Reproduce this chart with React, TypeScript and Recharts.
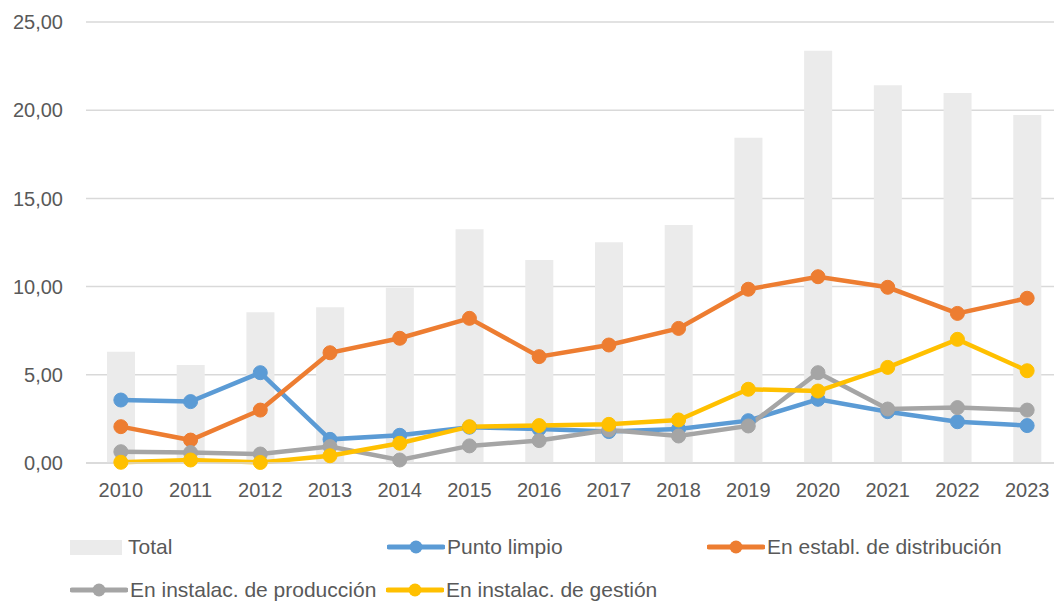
import { ComposedChart, Bar, Line, XAxis, YAxis, CartesianGrid } from 'recharts'

const years = ['2010', '2011', '2012', '2013', '2014', '2015', '2016', '2017', '2018', '2019', '2020', '2021', '2022', '2023']
const total = [6.31, 5.56, 8.54, 8.83, 9.93, 13.25, 11.51, 12.51, 13.49, 18.44, 23.37, 21.41, 20.98, 19.73]
const puntoLimpio = [3.57, 3.48, 5.12, 1.34, 1.57, 2.03, 1.93, 1.78, 1.93, 2.4, 3.61, 2.91, 2.34, 2.12]
const establDistribucion = [2.06, 1.3, 3.0, 6.25, 7.07, 8.2, 6.03, 6.69, 7.63, 9.85, 10.56, 9.96, 8.48, 9.34]
const instalacProduccion = [0.64, 0.59, 0.51, 0.93, 0.17, 0.97, 1.27, 1.87, 1.53, 2.1, 5.12, 3.06, 3.14, 3.0]
const instalacGestion = [0.04, 0.17, 0.03, 0.41, 1.12, 2.06, 2.12, 2.19, 2.44, 4.18, 4.08, 5.42, 7.01, 5.23]
const yTicks = [0, 5, 10, 15, 20, 25]

const data = years.map((year, i) => ({
  year,
  total: total[i],
  punto: puntoLimpio[i],
  distribucion: establDistribucion[i],
  produccion: instalacProduccion[i],
  gestion: instalacGestion[i],
}))

const lines = [
  { key: 'punto', name: 'Punto limpio', color: '#5B9BD5' },
  { key: 'distribucion', name: 'En establ. de distribución', color: '#ED7D31' },
  { key: 'produccion', name: 'En instalac. de producción', color: '#A5A5A5' },
  { key: 'gestion', name: 'En instalac. de gestión', color: '#FFC000' },
]

const FONT = '"Liberation Sans", Arial, sans-serif'
const TEXT = '#595959'

// posiciones de la leyenda (x, y centro)
const legendPos = [
  { left: 70, top: 547 },
  { left: 387, top: 547 },
  { left: 707, top: 547 },
  { left: 70, top: 590 },
  { left: 386, top: 590 },
]

function LegendLine({ color }: { color: string }) {
  return (
    <svg width={58} height={16} style={{ display: 'block' }}>
      <line x1={2} y1={8} x2={56} y2={8} stroke={color} strokeWidth={5} strokeLinecap="round" />
      <circle cx={29} cy={8} r={6.5} fill={color} />
    </svg>
  )
}

function ChartLegend() {
  const items = [
    { name: 'Total', swatch: <div style={{ width: 52, height: 15, background: '#EBEBEB', marginRight: 4 }} /> },
    ...lines.map((l) => ({ name: l.name, swatch: <LegendLine color={l.color} /> })),
  ]
  return (
    <>
      {items.map((item, i) => (
        <div
          key={item.name}
          style={{
            position: 'absolute',
            left: legendPos[i].left,
            top: legendPos[i].top - 13,
            height: 26,
            display: 'flex',
            alignItems: 'center',
            gap: 2,
            fontFamily: FONT,
            fontSize: 21,
            color: TEXT,
            whiteSpace: 'nowrap',
          }}
        >
          {item.swatch}
          <span>{item.name}</span>
        </div>
      ))}
    </>
  )
}

export default function App() {
  return (
    <div
      style={{
        position: 'absolute',
        left: 0,
        top: 0,
        width: 1054,
        height: 603,
        overflow: 'hidden',
        background: '#fff',
      }}
    >
      <ComposedChart
        width={1062}
        height={510}
        data={data}
        margin={{ top: 22, right: 0, bottom: 0, left: 0 }}
        barSize={28}
      >
        <CartesianGrid vertical={false} stroke="#D9D9D9" strokeWidth={1.5} />
        <XAxis
          dataKey="year"
          axisLine={{ stroke: '#D9D9D9', strokeWidth: 1.5 }}
          tickLine={false}
          tickSize={6}
          tickMargin={14}
          height={47}
          tick={{ fill: TEXT, fontSize: 20, fontFamily: FONT }}
          interval={0}
        />
        <YAxis
          width={86}
          domain={[0, 25]}
          ticks={yTicks}
          axisLine={false}
          tickLine={false}
          tickSize={6}
          tickMargin={17}
          tickFormatter={(v: number) => v.toFixed(2).replace('.', ',')}
          tick={{ fill: TEXT, fontSize: 20, fontFamily: FONT }}
        />
        <Bar dataKey="total" name="Total" fill="#EBEBEB" isAnimationActive={false} />
        {lines.map((l) => (
          <Line
            key={l.key}
            dataKey={l.key}
            name={l.name}
            stroke={l.color}
            strokeWidth={4.5}
            dot={{ r: 7, fill: l.color, stroke: l.color, strokeWidth: 1 }}
            activeDot={false}
            isAnimationActive={false}
          />
        ))}
      </ComposedChart>
      <ChartLegend />
    </div>
  )
}
